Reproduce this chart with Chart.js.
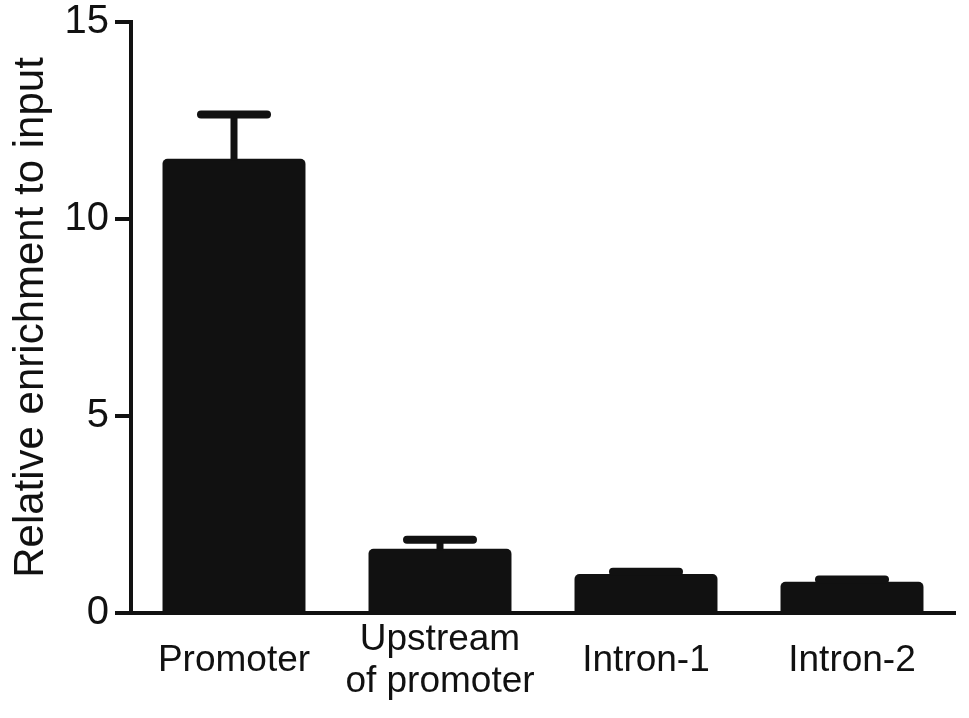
<!DOCTYPE html>
<html>
<head>
<meta charset="utf-8">
<script src="https://cdn.jsdelivr.net/npm/chart.js@4/dist/chart.umd.min.js"></script>
<style>
    html, body { margin: 0; padding: 0; background: #fff; }
    #wrap { width: 969px; height: 718px; }
</style>
</head>
<body>
<div id="wrap"><canvas id="enrichChart" width="969" height="718"></canvas></div>
<script>
// Chart data
const categories = [['Promoter'], ['Upstream', 'of promoter'], ['Intron-1'], ['Intron-2']];
const meanValues = [11.53, 1.63, 0.99, 0.79];
const errorValues = [1.12, 0.23, 0.06, 0.06];
const yTicks = [0, 5, 10, 15];

const INK = '#111111';
const FONT = '"Liberation Sans", Arial, Helvetica, sans-serif';

// Draws the upper SEM whiskers from the scale values
const errorBarPlugin = {
    id: 'errorBars',
    afterDatasetsDraw(chart) {
        const ctx = chart.ctx;
        const yScale = chart.scales.y;
        const meta = chart.getDatasetMeta(0);
        ctx.save();
        ctx.strokeStyle = INK;
        meta.data.forEach((bar, i) => {
            const yTop = yScale.getPixelForValue(meanValues[i] + errorValues[i]);
            const yBar = yScale.getPixelForValue(meanValues[i]);
            // stem
            ctx.lineWidth = 7;
            ctx.lineCap = 'butt';
            ctx.beginPath();
            ctx.moveTo(bar.x, yBar + 2);
            ctx.lineTo(bar.x, yTop);
            ctx.stroke();
            // cap
            ctx.lineWidth = 8;
            ctx.lineCap = 'round';
            ctx.beginPath();
            ctx.moveTo(bar.x - 33, yTop);
            ctx.lineTo(bar.x + 33, yTop);
            ctx.stroke();
        });
        ctx.restore();
    }
};

new Chart(document.getElementById('enrichChart').getContext('2d'), {
    type: 'bar',
    data: {
        labels: categories,
        datasets: [{
            data: meanValues,
            backgroundColor: INK,
            borderWidth: 0,
            borderRadius: 5,
            borderSkipped: 'start',
            categoryPercentage: 1,
            barPercentage: 0.694
        }]
    },
    options: {
        responsive: false,
        animation: false,
        devicePixelRatio: 1,
        layout: { padding: { left: 0, top: 22, right: 14, bottom: 0 } },
        plugins: {
            legend: { display: false },
            tooltip: { enabled: false }
        },
        scales: {
            x: {
                grid: { display: false },
                border: { display: true, color: INK, width: 4 },
                ticks: {
                    color: INK,
                    padding: 19,
                    crossAlign: 'center',
                    maxRotation: 0,
                    autoSkip: false,
                    font: { family: FONT, size: 37, lineHeight: 1.13 }
                },
                afterFit: (scale) => {
                    scale.height = 105;
                    scale.paddingLeft = 0;
                    scale.paddingRight = 0;
                }
            },
            y: {
                min: yTicks[0],
                max: yTicks[yTicks.length - 1],
                afterBuildTicks: (scale) => {
                    scale.ticks = yTicks.map(v => ({ value: v }));
                },
                grid: {
                    drawOnChartArea: false,
                    drawTicks: true,
                    tickLength: 16,
                    color: INK,
                    lineWidth: 4
                },
                border: { display: true, color: INK, width: 4 },
                ticks: {
                    color: INK,
                    padding: 6,
                    font: { family: FONT, size: 40 }
                },
                title: {
                    display: true,
                    text: 'Relative enrichment to input',
                    color: INK,
                    padding: { top: 6, bottom: 0 },
                    font: { family: FONT, size: 42, lineHeight: 1.2 }
                },
                afterFit: (scale) => {
                    scale.width = 131;
                    scale.paddingTop = 0;
                    scale.paddingBottom = 0;
                }
            }
        }
    },
    plugins: [errorBarPlugin]
});
</script>
</body>
</html>
